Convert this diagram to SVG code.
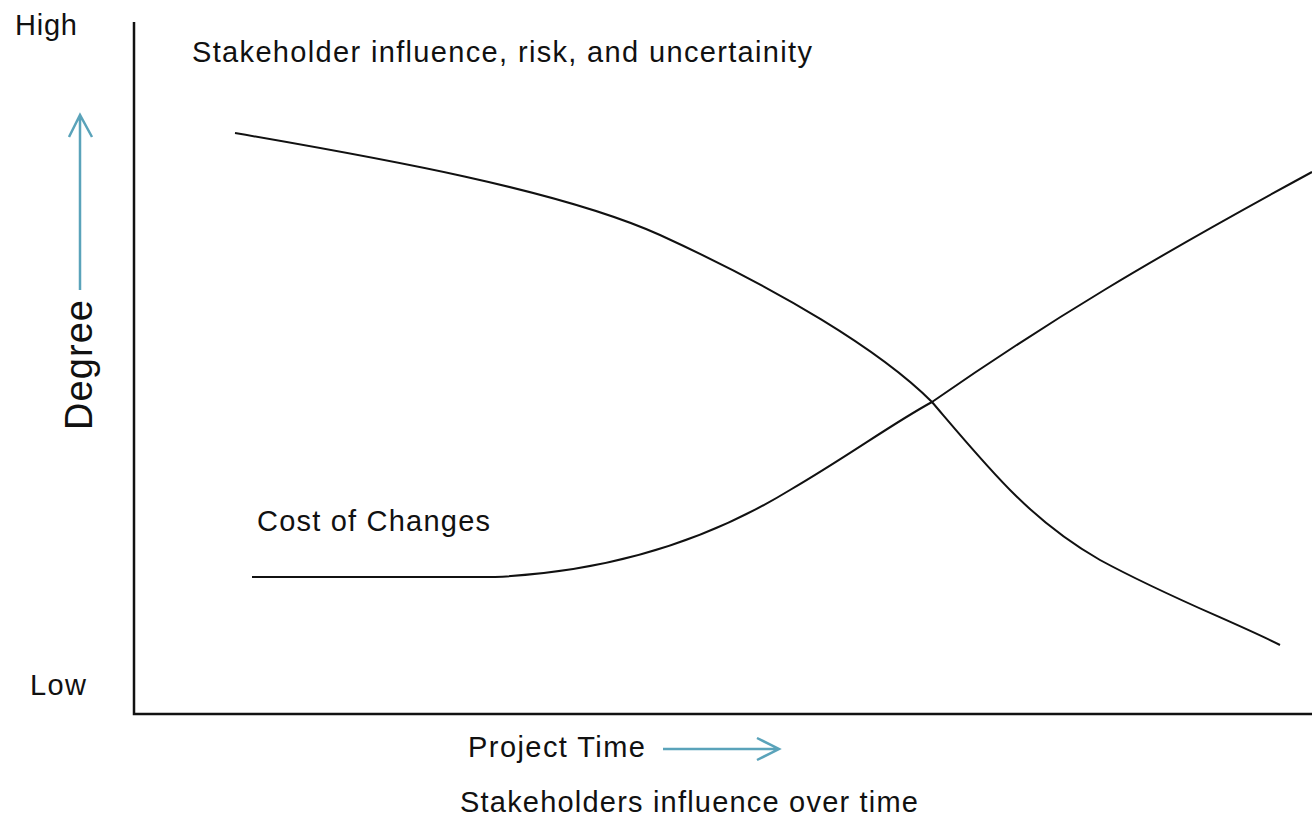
<svg xmlns="http://www.w3.org/2000/svg" width="1312" height="822" viewBox="0 0 1312 822">
<style>
.t{font-family:"Liberation Sans",Arial,sans-serif;font-size:29px;fill:#111}
.ax{stroke:#111;stroke-width:2.5;fill:none}
.cv{stroke:#111;stroke-width:2;fill:none}
.ar{stroke:#5aa3ba;stroke-width:2.5;fill:none}
</style>
<rect width="1312" height="822" fill="#fff"/>
<g id="axes">
<path class="ax" d="M134,22 V714 H1312"/>
</g>
<g id="labels">
<text class="t" x="15" y="35" textLength="62">High</text>
<text class="t" x="30" y="695" textLength="56">Low</text>
<text class="t" x="192" y="62" textLength="620">Stakeholder influence, risk, and uncertainity</text>
<text class="t" x="257" y="531" textLength="233">Cost of Changes</text>
<text class="t" x="468" y="757" textLength="177">Project Time</text>
<text class="t" x="460" y="812" textLength="458">Stakeholders influence over time</text>
<text class="t" transform="translate(92,430) rotate(-90)" style="font-size:38px" textLength="130">Degree</text>
</g>
<g id="connectors">
<path class="cv" d="M235,133 C380,158 560,190 660,235 C780,290 880,350 932,402 C990,470 1030,520 1100,560 C1170,598 1230,620 1280,645"/>
<path class="cv" d="M252,577 L495,577 C600,572 700,545 790,490 C850,455 890,425 932,402 C1050,320 1150,260 1312,172"/>
<path class="ar" d="M80,290 V115 M69,137 L80,115 L92,137"/>
<path class="ar" d="M663,749 H779 M757,738 L779,749 L757,760"/>
</g>
</svg>
